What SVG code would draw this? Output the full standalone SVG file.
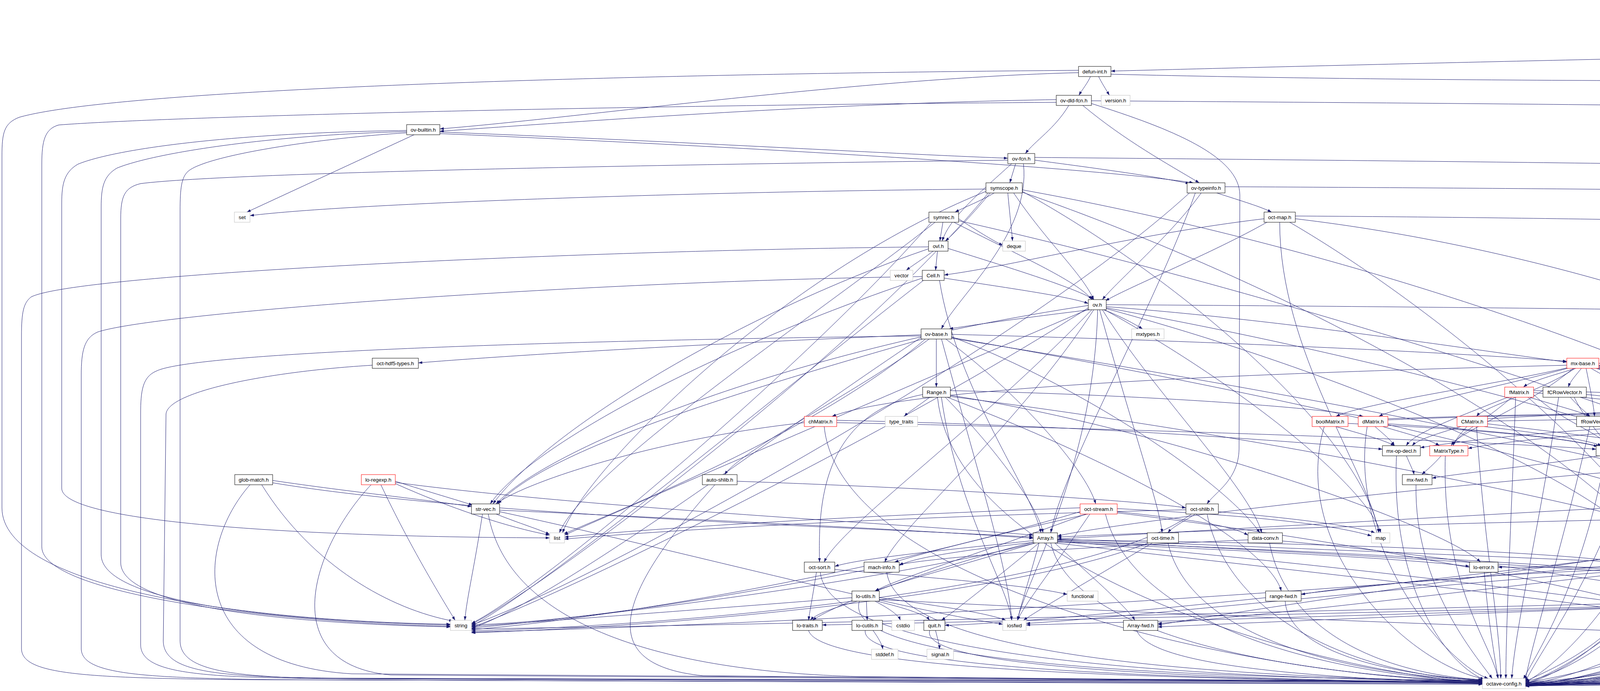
<svg xmlns="http://www.w3.org/2000/svg" width="6929" height="1769" viewBox="0 0 6929 1769">
<style>
.n rect{fill:#fff;stroke:#000;stroke-width:1}
.x rect{stroke:#bfbfbf}
.r rect{stroke:#f00}
.root rect{fill:#bfbfbf}
text{font-family:"Liberation Sans",Arial,sans-serif;font-size:13.33px;text-anchor:middle;fill:#000}
#edges path{fill:none;stroke:#191970;stroke-width:1;marker-end:url(#a)}
</style>
<defs>
<marker id="a" markerWidth="10" markerHeight="7" refX="10" refY="3.5" orient="auto" markerUnits="userSpaceOnUse"><path d="M0,0 L10,3.5 L0,7 z" fill="#191970"/></marker>
</defs>
<rect x="0" y="0" width="6929" height="1769" fill="#fff"/>
<g id="edges">
<path d="M6820 47 C6815 70 6808 80 6803 96"/>
<path d="M6850 47 C6885 200 6700 420 6400 560 C6000 750 4900 950 4510 1066"/>
<path d="M6770 109 C5500 115 3500 165 2844 182"/>
<path d="M6815 122 C6880 170 6922 220 6922 300 L6922 1680 C6922 1740 6700 1745 3905 1755"/>
<path d="M2761 186 C2200 200 1500 300 1126 330"/>
<path d="M2792 195 C2785 212 2770 230 2762 244"/>
<path d="M2812 195 C2820 212 2832 230 2840 244"/>
<path d="M2761 180 C1500 190 300 230 50 300 C10 315 5 340 5 400 L5 1300 C5 1500 600 1590 1153 1598"/>
<path d="M2844 190 C4500 230 6300 180 6600 230 C6800 270 6871 350 6871 500 L6871 1680 C6871 1730 6600 1742 3905 1752"/>
<path d="M2736 270 C2700 330 2650 360 2625 393"/>
<path d="M2772 270 C2880 360 2990 420 3070 468"/>
<path d="M2794 265 C3000 330 3174 400 3174 500 L3172 1150 C3170 1230 3110 1260 3090 1290"/>
<path d="M2704 255 C2100 265 1500 310 1126 336"/>
<path d="M2704 262 C1500 270 400 300 150 320 C115 330 107 360 107 420 L107 1400 C107 1520 700 1595 1153 1603"/>
<path d="M2794 258 C4500 270 6200 280 6700 380 C6800 410 6821 470 6821 560 L6821 1680 C6821 1730 6550 1740 3905 1750"/>
<path d="M1126 338 C1700 360 2300 395 2580 405"/>
<path d="M1126 342 C2000 380 2800 430 3055 468"/>
<path d="M1060 345 L632 543"/>
<path d="M1041 334 C600 340 300 380 200 420 C165 440 158 470 158 520 L158 1250 C158 1340 800 1375 1407 1377"/>
<path d="M1041 337 C700 345 400 390 300 430 C265 450 259 480 259 530 L259 1420 C259 1540 700 1590 1153 1600"/>
<path d="M1041 340 C800 355 520 400 480 440 C465 455 461 480 461 540 L461 1640 C461 1720 600 1735 900 1738 L3795 1748"/>
<path d="M2649 410 C2800 430 2950 450 3045 470"/>
<path d="M2600 419 L2585 468"/>
<path d="M2590 419 C2500 500 2430 560 2412 617"/>
<path d="M2620 419 C2640 600 2450 760 2410 842"/>
<path d="M2580 410 C1800 420 600 440 360 470 C320 480 309 500 309 560 L309 1440 C309 1550 700 1595 1153 1605"/>
<path d="M2649 403 C4500 420 6200 440 6650 500 C6740 520 6771 580 6771 650 L6771 1680 C6771 1730 6500 1740 3905 1750"/>
<path d="M2580 494 C2585 550 2590 590 2592 617"/>
<path d="M2545 494 C2510 515 2470 530 2445 543"/>
<path d="M2535 494 C2480 560 2440 600 2420 617"/>
<path d="M2595 494 C2680 620 2770 700 2800 767"/>
<path d="M2524 484 C1800 490 900 520 640 552"/>
<path d="M2524 490 C2000 700 1500 1200 1440 1364"/>
<path d="M2617 490 C3000 700 3480 1100 3530 1364"/>
<path d="M2617 486 C3800 700 5000 1200 5125 1513"/>
<path d="M2530 494 C2200 900 1400 1500 1207 1598"/>
<path d="M2617 492 C3500 800 4300 1300 4340 1588"/>
<path d="M2454 560 C2500 590 2540 615 2567 628"/>
<path d="M2395 568 C2100 800 1500 1200 1432 1364"/>
<path d="M2454 565 C3500 800 5000 1300 5115 1513"/>
<path d="M2385 568 C2100 900 1400 1500 1207 1596"/>
<path d="M2440 568 C2600 650 2760 720 2795 767"/>
<path d="M2414 568 L2406 617"/>
<path d="M3060 494 C2950 800 2720 1200 2690 1364"/>
<path d="M3115 494 C3180 515 3230 530 3255 543"/>
<path d="M3075 494 C3000 600 2860 720 2822 767"/>
<path d="M3045 494 C2600 900 1500 1500 1207 1600"/>
<path d="M3136 478 C4500 485 6100 500 6600 560 C6700 580 6721 640 6721 720 L6721 1680 C6721 1728 6450 1740 3905 1750"/>
<path d="M3316 560 C4500 700 5600 1300 5680 1588"/>
<path d="M3276 568 C3276 900 3500 1200 3530 1364"/>
<path d="M3236 560 C2900 600 2600 680 2417 704"/>
<path d="M3300 568 C3700 800 4300 1300 4345 1588"/>
<path d="M3245 568 C3100 650 2900 730 2830 770"/>
<path d="M3316 553 C4500 560 6100 600 6550 650 C6650 670 6670 720 6670 800 L6670 1680 C6670 1726 6400 1738 3905 1750"/>
<path d="M2390 642 C2360 665 2335 680 2320 692"/>
<path d="M2400 642 L2395 692"/>
<path d="M2377 637 C1900 800 1400 1100 1262 1290"/>
<path d="M2427 636 C2600 690 2760 740 2800 767"/>
<path d="M2377 632 C1500 640 200 700 80 760 C60 775 55 800 55 860 L55 1660 C55 1725 200 1735 600 1740 L3795 1750"/>
<path d="M2405 717 C2450 1000 2640 1250 2665 1364"/>
<path d="M2361 712 C1800 900 1350 1150 1255 1290"/>
<path d="M2417 712 C2600 740 2740 760 2786 777"/>
<path d="M2365 717 C2000 1000 1400 1500 1207 1603"/>
<path d="M2361 708 C1500 720 400 800 250 850 C215 865 208 900 208 960 L208 1660 C208 1725 350 1735 700 1740 L3795 1752"/>
<path d="M2790 793 C2650 810 2500 830 2430 842"/>
<path d="M2825 793 C2870 810 2905 830 2925 842"/>
<path d="M2832 785 C3300 820 3800 900 4011 927"/>
<path d="M2822 793 C2950 1000 3200 1250 3230 1364"/>
<path d="M2832 790 C3600 1000 4200 1300 4235 1439"/>
<path d="M2800 793 C2600 1100 2300 1350 2265 1439"/>
<path d="M2795 793 C2500 1100 2150 1350 2110 1439"/>
<path d="M2815 793 C2900 1100 2970 1300 2975 1364"/>
<path d="M2786 782 C2000 900 1400 1150 1270 1290"/>
<path d="M2810 793 C2800 1200 2620 1500 2605 1588"/>
<path d="M2786 788 C2300 1100 1450 1520 1207 1606"/>
<path d="M2790 790 C2300 1000 1600 1300 1445 1370"/>
<path d="M2832 788 C4000 1000 5000 1350 5130 1513"/>
<path d="M2828 793 C3200 1000 3500 1250 3535 1364"/>
<path d="M2832 780 C4500 790 6300 820 6560 860 C6610 870 6620 900 6620 950 L6620 1680 C6620 1725 6350 1737 3905 1748"/>
<path d="M2397 867 L2397 991"/>
<path d="M2436 862 C2800 1000 3150 1250 3225 1364"/>
<path d="M2436 856 C3000 870 3700 900 4011 925"/>
<path d="M2365 867 C1900 1000 1400 1150 1275 1290"/>
<path d="M2380 867 C2200 1000 1900 1150 1855 1215"/>
<path d="M2358 857 C1800 880 1300 910 1071 929"/>
<path d="M2420 867 C2600 1000 2780 1200 2805 1290"/>
<path d="M2436 864 C3800 1100 4850 1400 4925 1588"/>
<path d="M2410 867 C2500 1200 2580 1450 2590 1588"/>
<path d="M2370 867 C2100 1100 1600 1300 1443 1367"/>
<path d="M2436 866 C3900 1100 5000 1350 5120 1513"/>
<path d="M2358 864 C2000 1100 1450 1520 1207 1609"/>
<path d="M2358 860 C1500 870 500 900 400 950 C365 965 360 1000 360 1060 L360 1650 C360 1722 500 1733 800 1737 L3795 1746"/>
<path d="M953 935 C700 950 430 1000 425 1060 L418 1640 C418 1720 550 1733 850 1736 L3795 1744"/>
<path d="M4030 941 C3900 1050 3740 1100 3715 1141"/>
<path d="M4015 941 C3800 990 3500 1030 3420 1066"/>
<path d="M4011 935 C3000 960 2300 1000 2130 1066"/>
<path d="M4020 941 C3800 1000 3580 1040 3530 1066"/>
<path d="M4035 941 C3950 1000 3800 1040 3780 1066"/>
<path d="M4040 941 C3980 960 3920 975 3900 991"/>
<path d="M4080 941 C4300 990 4620 1030 4680 1066"/>
<path d="M4070 941 C4150 990 4270 1030 4300 1066"/>
<path d="M4093 935 C4600 960 5050 1020 5160 1066"/>
<path d="M4090 940 C4400 980 4720 1030 4795 1066"/>
<path d="M4093 930 C4600 940 5000 960 5124 995"/>
<path d="M4093 938 C4500 970 4850 1030 4915 1066"/>
<path d="M4060 941 C4070 990 4080 1040 4082 1066"/>
<path d="M4093 936 C4600 960 4980 1020 5040 1066"/>
<path d="M4050 941 C4035 960 4020 975 4015 991"/>
<path d="M4080 941 C4140 960 4190 975 4205 991"/>
<path d="M4088 941 C4300 990 4440 1030 4470 1066"/>
<path d="M2380 1017 C2350 1040 2325 1055 2315 1066"/>
<path d="M2433 1000 C2900 1010 3350 1040 3490 1066"/>
<path d="M2362 1010 C2100 1060 2095 1300 2098 1439"/>
<path d="M2433 1012 C3000 1100 3700 1350 3790 1439"/>
<path d="M2433 1015 C3500 1150 4600 1400 4740 1513"/>
<path d="M2425 1017 C2900 1200 3250 1400 3280 1513"/>
<path d="M2410 1017 C2450 1300 2580 1500 2590 1588"/>
<path d="M2400 1017 C2450 1500 3500 1740 3795 1746"/>
<path d="M2420 1017 C2550 1150 2660 1300 2670 1364"/>
<path d="M3870 1017 C3800 1080 3730 1110 3720 1141"/>
<path d="M3860 1017 C3700 1080 3620 1110 3600 1141"/>
<path d="M3926 1010 C4000 1080 4100 1110 4115 1141"/>
<path d="M3926 1005 C4400 1050 4800 1100 4850 1141"/>
<path d="M3915 1017 C3990 1040 4050 1055 4070 1066"/>
<path d="M3926 1000 C4400 1010 4850 1040 4910 1066"/>
<path d="M3880 1017 C3870 1300 3855 1600 3855 1737"/>
<path d="M4020 1017 C4040 1040 4060 1055 4070 1066"/>
<path d="M4061 1010 C4500 1050 4800 1100 4845 1141"/>
<path d="M4030 1017 C4060 1080 4100 1110 4110 1141"/>
<path d="M3990 1017 C3950 1300 3880 1600 3870 1737"/>
<path d="M4240 1017 C4260 1040 4290 1055 4300 1066"/>
<path d="M4274 1008 C4700 1020 5000 1040 5150 1066"/>
<path d="M4200 1017 C4170 1080 4140 1110 4135 1141"/>
<path d="M4210 1017 C4150 1400 3950 1650 3905 1745"/>
<path d="M5177 1017 L5177 1066"/>
<path d="M5150 1017 C5050 1080 4920 1120 4890 1141"/>
<path d="M5124 1010 C4700 1050 4300 1110 4160 1145"/>
<path d="M5230 1008 C5700 1100 5850 1500 5855 1662"/>
<path d="M5200 1017 C5250 1400 4200 1700 3905 1748"/>
<path d="M2142 1076 C2800 1090 3300 1130 3539 1150"/>
<path d="M2142 1082 C3000 1100 3800 1130 4086 1150"/>
<path d="M2059 1082 C1700 1120 1350 1230 1270 1290"/>
<path d="M2110 1092 C2150 1500 3200 1735 3795 1745"/>
<path d="M3420 1092 C3480 1110 3540 1125 3570 1141"/>
<path d="M3451 1084 C3800 1100 4000 1120 4090 1143"/>
<path d="M3390 1092 C3300 1400 3600 1700 3800 1738"/>
<path d="M3540 1092 C3600 1110 3660 1125 3685 1141"/>
<path d="M3520 1092 C3540 1110 3560 1125 3570 1141"/>
<path d="M3553 1085 C3800 1100 4000 1120 4095 1143"/>
<path d="M3553 1075 C3900 1060 4200 1060 4280 1066"/>
<path d="M3553 1072 C4200 1050 4900 1050 5140 1068"/>
<path d="M3500 1092 C3450 1400 3700 1700 3810 1737"/>
<path d="M3755 1092 C3740 1110 3725 1125 3720 1141"/>
<path d="M3740 1092 C3680 1110 3630 1125 3615 1141"/>
<path d="M3800 1092 C3950 1110 4060 1125 4100 1141"/>
<path d="M3808 1078 C4300 1070 4600 1060 4780 1066"/>
<path d="M3808 1072 C4400 1040 4900 1010 5124 1004"/>
<path d="M3808 1085 C4800 1200 5800 1400 5850 1662"/>
<path d="M3780 1092 C3800 1400 3840 1600 3842 1737"/>
<path d="M4137 1085 C4500 1100 4780 1120 4840 1141"/>
<path d="M4100 1092 C4110 1110 4120 1125 4122 1141"/>
<path d="M4070 1092 C4000 1400 3920 1650 3905 1742"/>
<path d="M4340 1092 C4600 1110 4800 1125 4845 1141"/>
<path d="M4280 1092 C4220 1110 4170 1125 4150 1141"/>
<path d="M4300 1092 C4250 1450 4000 1700 3905 1746"/>
<path d="M4460 1092 C4430 1110 4405 1125 4400 1141"/>
<path d="M4480 1092 C4460 1200 4410 1250 4400 1290"/>
<path d="M4510 1092 C4700 1110 4820 1125 4850 1141"/>
<path d="M4436 1088 C4300 1110 4200 1130 4160 1148"/>
<path d="M4436 1084 C4100 1090 3800 1120 3636 1146"/>
<path d="M4470 1092 C4400 1500 4000 1720 3905 1750"/>
<path d="M4649 1082 C4300 1090 3900 1120 3758 1148"/>
<path d="M4720 1092 C4790 1110 4840 1125 4855 1141"/>
<path d="M4649 1086 C4400 1100 4250 1130 4165 1150"/>
<path d="M4732 1088 C5500 1200 5840 1500 5845 1662"/>
<path d="M4680 1092 C4650 1500 4100 1730 3905 1752"/>
<path d="M4815 1092 C4835 1110 4855 1125 4860 1141"/>
<path d="M4756 1088 C4500 1100 4250 1130 4165 1152"/>
<path d="M4855 1088 C5500 1250 5830 1500 5840 1662"/>
<path d="M4790 1092 C4750 1500 4200 1735 3905 1753"/>
<path d="M4915 1092 C4895 1110 4880 1125 4875 1141"/>
<path d="M4879 1088 C4500 1100 4250 1135 4165 1155"/>
<path d="M4910 1092 C4880 1500 4300 1738 3905 1754"/>
<path d="M5030 1092 C4980 1110 4920 1125 4890 1141"/>
<path d="M4998 1088 C4600 1110 4300 1140 4165 1158"/>
<path d="M5102 1088 C5600 1250 5830 1500 5835 1662"/>
<path d="M5040 1092 C5000 1500 4400 1740 3905 1755"/>
<path d="M5150 1092 C5050 1110 4950 1125 4900 1143"/>
<path d="M5127 1088 C4700 1110 4300 1145 4165 1160"/>
<path d="M5170 1092 C5150 1500 4500 1742 3905 1756"/>
<path d="M3600 1166 C3610 1190 3618 1205 3620 1215"/>
<path d="M3575 1166 C3560 1500 3700 1700 3800 1740"/>
<path d="M3690 1166 C3670 1190 3650 1205 3640 1215"/>
<path d="M3700 1166 C3690 1500 3820 1650 3835 1737"/>
<path d="M4100 1166 C3950 1190 3750 1210 3666 1224"/>
<path d="M4110 1166 C4050 1500 3930 1680 3900 1738"/>
<path d="M4380 1166 C4300 1550 4000 1730 3905 1750"/>
<path d="M4828 1160 C4000 1200 2900 1330 2707 1372"/>
<path d="M4902 1160 C5200 1180 5400 1200 5490 1222"/>
<path d="M4902 1153 C5400 1160 5850 1190 5990 1215"/>
<path d="M4850 1166 C4800 1550 4200 1735 3905 1752"/>
<path d="M670 1241 C800 1450 1000 1560 1160 1590"/>
<path d="M698 1230 C900 1260 1100 1280 1207 1297"/>
<path d="M698 1236 C1200 1320 2200 1350 2645 1375"/>
<path d="M640 1241 C500 1400 480 1700 900 1725 L3795 1745"/>
<path d="M1012 1238 C1150 1300 1300 1350 1407 1370"/>
<path d="M975 1241 C1050 1400 1130 1530 1165 1588"/>
<path d="M1012 1232 C1100 1260 1170 1280 1210 1293"/>
<path d="M1012 1235 C1500 1300 2300 1340 2645 1370"/>
<path d="M950 1241 C800 1400 700 1700 1000 1728 L3795 1747"/>
<path d="M1887 1232 C2400 1250 2900 1280 3036 1300"/>
<path d="M1830 1241 C1600 1500 1500 1700 1800 1730 L3795 1748"/>
<path d="M3625 1241 C3620 1500 3780 1680 3820 1737"/>
<path d="M5488 1232 C5300 1260 5100 1285 5056 1298"/>
<path d="M5510 1241 C5470 1260 5440 1280 5430 1290"/>
<path d="M5560 1241 C5700 1400 5850 1550 5855 1662"/>
<path d="M5550 1241 C5620 1300 5630 1400 5630 1439"/>
<path d="M5570 1241 C5680 1350 5700 1500 5700 1588"/>
<path d="M5540 1241 C5540 1350 5538 1450 5537 1513"/>
<path d="M5488 1238 C4500 1400 2800 1590 2419 1601"/>
<path d="M5488 1225 C4500 1280 3200 1350 2707 1380"/>
<path d="M5520 1241 C5450 1600 4300 1740 3905 1752"/>
<path d="M6010 1241 C6100 1500 5800 1720 5000 1738 L3905 1752"/>
<path d="M1279 1306 C1800 1330 2400 1360 2645 1378"/>
<path d="M1270 1316 C1330 1340 1380 1355 1407 1368"/>
<path d="M1235 1316 C1215 1450 1195 1530 1190 1588"/>
<path d="M1279 1310 C1700 1400 2300 1560 2567 1598"/>
<path d="M1250 1316 C1300 1600 1700 1720 2200 1732 L3795 1748"/>
<path d="M2765 1310 C2300 1450 1600 1580 1207 1612"/>
<path d="M2765 1300 C2200 1320 1700 1350 1445 1375"/>
<path d="M2860 1302 C3200 1320 3400 1340 3511 1372"/>
<path d="M2790 1316 C2700 1450 2620 1550 2605 1588"/>
<path d="M2860 1310 C3050 1330 3150 1345 3195 1370"/>
<path d="M2780 1316 C2500 1420 2300 1480 2240 1513"/>
<path d="M2785 1316 C2500 1380 2350 1420 2290 1439"/>
<path d="M2860 1313 C3600 1400 4250 1550 4330 1588"/>
<path d="M2830 1316 C2900 1600 3400 1730 3795 1744"/>
<path d="M3036 1305 C2400 1320 1800 1350 1445 1380"/>
<path d="M3119 1310 C3350 1330 3480 1350 3520 1364"/>
<path d="M3050 1316 C2800 1500 1800 1600 1207 1615"/>
<path d="M3060 1316 C3030 1335 3000 1350 2990 1364"/>
<path d="M3090 1316 C3150 1600 3500 1730 3795 1742"/>
<path d="M4400 1316 C4500 1500 4800 1600 4850 1662"/>
<path d="M4370 1316 C4250 1600 4000 1730 3905 1744"/>
<path d="M4972 1310 C4300 1400 3200 1560 2964 1600"/>
<path d="M5000 1316 C4900 1400 4790 1480 4770 1513"/>
<path d="M4985 1316 C4700 1380 4400 1420 4294 1445"/>
<path d="M4990 1316 C4850 1380 4740 1420 4710 1439"/>
<path d="M5020 1316 C5000 1600 4300 1735 3905 1748"/>
<path d="M5418 1316 C5422 1335 5428 1350 5430 1364"/>
<path d="M5378 1306 C4500 1320 3200 1350 2707 1375"/>
<path d="M5390 1316 C5100 1400 4850 1480 4790 1513"/>
<path d="M5440 1316 C5600 1400 5680 1500 5690 1588"/>
<path d="M5378 1312 C4000 1500 2000 1600 1207 1618"/>
<path d="M5400 1316 C5300 1650 4300 1742 3905 1752"/>
<path d="M2707 1385 C3500 1450 4300 1560 4460 1588"/>
<path d="M2707 1380 C4000 1430 5200 1480 5503 1522"/>
<path d="M2707 1383 C4200 1450 5400 1560 5657 1598"/>
<path d="M2660 1390 C2630 1500 2610 1560 2605 1588"/>
<path d="M2650 1390 C2200 1500 1500 1580 1207 1608"/>
<path d="M2700 1390 C2800 1480 2890 1560 2905 1588"/>
<path d="M2707 1386 C3700 1420 4500 1480 4720 1513"/>
<path d="M2707 1382 C3500 1390 4100 1420 4204 1448"/>
<path d="M2707 1388 C3200 1410 3600 1430 3762 1450"/>
<path d="M2645 1388 C2400 1450 2150 1540 2080 1588"/>
<path d="M2650 1390 C2450 1450 2300 1490 2240 1513"/>
<path d="M2700 1390 C3500 1480 4200 1560 4320 1588"/>
<path d="M2645 1384 C2400 1410 2200 1430 2137 1450"/>
<path d="M2660 1390 C2550 1480 2450 1560 2410 1588"/>
<path d="M2650 1388 C2450 1410 2330 1430 2302 1448"/>
<path d="M2690 1390 C2750 1650 3400 1735 3795 1743"/>
<path d="M2950 1390 C2800 1480 2660 1560 2620 1588"/>
<path d="M2940 1390 C2600 1520 1800 1600 1207 1620"/>
<path d="M2990 1390 C3050 1650 3500 1730 3795 1741"/>
<path d="M3283 1385 C4000 1450 4800 1600 4990 1662"/>
<path d="M3195 1382 C2800 1400 2450 1420 2302 1445"/>
<path d="M3250 1390 C3300 1650 3600 1730 3795 1740"/>
<path d="M5445 1364 C5480 1320 5520 1270 5530 1241"/>
<path d="M5460 1390 C5550 1410 5600 1425 5610 1439"/>
<path d="M5379 1386 C5100 1420 4850 1490 4790 1515"/>
<path d="M5450 1390 C5580 1450 5670 1530 5685 1588"/>
<path d="M5420 1390 C5300 1680 4300 1745 3905 1753"/>
<path d="M2137 1458 C2400 1480 2650 1500 2732 1522"/>
<path d="M2090 1465 C2080 1530 2072 1570 2070 1588"/>
<path d="M2100 1465 C2120 1680 3000 1735 3795 1745"/>
<path d="M2212 1460 C1900 1520 1500 1590 1207 1600"/>
<path d="M2270 1465 C2300 1680 3100 1733 3795 1744"/>
<path d="M3800 1465 C3810 1600 3830 1700 3835 1737"/>
<path d="M4270 1465 C4310 1480 4335 1500 4340 1513"/>
<path d="M4260 1465 C4290 1520 4330 1560 4340 1588"/>
<path d="M4280 1465 C4380 1520 4440 1560 4460 1588"/>
<path d="M4294 1458 C4900 1500 5500 1570 5657 1592"/>
<path d="M4204 1458 C3600 1500 2900 1580 2627 1596"/>
<path d="M4294 1455 C4700 1470 5000 1490 5104 1520"/>
<path d="M4204 1462 C3700 1520 3200 1580 2964 1596"/>
<path d="M4294 1460 C4550 1480 4680 1500 4720 1513"/>
<path d="M4294 1463 C4600 1480 4800 1500 4840 1513"/>
<path d="M4250 1465 C4255 1550 4260 1620 4262 1662"/>
<path d="M4204 1455 C3800 1470 3450 1500 3331 1522"/>
<path d="M4230 1465 C4150 1650 3950 1720 3905 1745"/>
<path d="M4700 1465 C4720 1485 4740 1500 4745 1513"/>
<path d="M4623 1452 C4300 1452 4000 1452 3835 1452"/>
<path d="M4744 1460 C4950 1480 5060 1500 5110 1513"/>
<path d="M4660 1465 C4550 1680 4100 1735 3905 1747"/>
<path d="M5600 1465 C5570 1490 5550 1505 5545 1513"/>
<path d="M5640 1465 C5670 1520 5690 1560 5692 1588"/>
<path d="M5610 1465 C5500 1700 4400 1745 3905 1754"/>
<path d="M2240 1539 C2280 1560 2300 1575 2305 1588"/>
<path d="M2251 1530 C2400 1550 2530 1570 2575 1588"/>
<path d="M2181 1530 C1800 1560 1400 1590 1207 1604"/>
<path d="M2218 1539 L2220 1588"/>
<path d="M2245 1539 C2330 1560 2370 1575 2380 1588"/>
<path d="M2195 1539 C2120 1560 2085 1575 2075 1588"/>
<path d="M2251 1535 C3500 1600 5200 1650 5815 1672"/>
<path d="M2200 1539 C2150 1700 3000 1735 3795 1742"/>
<path d="M3290 1539 C3300 1680 3600 1730 3795 1741"/>
<path d="M4720 1539 C4600 1560 4520 1575 4490 1588"/>
<path d="M4735 1539 C4680 1560 4620 1575 4600 1588"/>
<path d="M4708 1532 C3500 1560 2000 1600 1207 1610"/>
<path d="M4801 1534 C5200 1550 5500 1570 5657 1595"/>
<path d="M4708 1535 C4600 1560 4450 1575 4400 1588"/>
<path d="M4730 1539 C4680 1600 4610 1640 4590 1662"/>
<path d="M4708 1537 C4000 1560 3300 1590 2964 1605"/>
<path d="M4740 1539 C4650 1690 4200 1735 3905 1750"/>
<path d="M4900 1539 C4920 1560 4930 1575 4932 1588"/>
<path d="M4890 1539 C4920 1600 4980 1640 4995 1662"/>
<path d="M4926 1534 C5050 1560 5140 1600 5155 1662"/>
<path d="M4825 1534 C4000 1560 3000 1590 2627 1600"/>
<path d="M4926 1537 C5000 1555 5060 1575 5075 1588"/>
<path d="M4825 1537 C3800 1560 2600 1590 2105 1600"/>
<path d="M4870 1539 C4860 1590 4860 1640 4862 1662"/>
<path d="M4860 1539 C4780 1700 4300 1740 3905 1751"/>
<path d="M2070 1614 C2100 1720 3000 1738 3795 1748"/>
<path d="M2235 1614 C2250 1635 2258 1650 2260 1662"/>
<path d="M2215 1614 C2200 1720 3100 1738 3795 1749"/>
<path d="M2395 1614 C2400 1635 2405 1650 2405 1662"/>
<path d="M2380 1614 C2350 1720 3200 1737 3795 1750"/>
<path d="M2910 1614 C2950 1720 3500 1737 3795 1751"/>
<path d="M4375 1614 C4395 1635 4410 1650 4415 1662"/>
<path d="M4340 1614 C4200 1720 4000 1742 3905 1755"/>
<path d="M5110 1614 C5135 1635 5150 1650 5155 1662"/>
<path d="M5080 1614 C5050 1635 5025 1650 5015 1662"/>
<path d="M5060 1614 C4980 1635 4920 1650 4900 1662"/>
<path d="M5142 1606 C5500 1620 5750 1650 5815 1667"/>
<path d="M5090 1614 C5050 1720 4300 1745 3905 1756"/>
<path d="M4240 1688 C4150 1740 4000 1750 3905 1752"/>
<path d="M4550 1688 C4400 1740 4100 1752 3905 1754"/>
<path d="M4840 1688 C4700 1740 4200 1752 3905 1756"/>
<path d="M5860 1688 L5860 1737"/>
<path d="M5815 1678 C5300 1700 4300 1740 3905 1757"/>
</g>
<g id="nodes">
<g id="n_root" class="n root"><rect x="6773" y="6" width="128" height="41"/><text x="6784" y="22" style="text-anchor:start">libinterp/corefcn/</text><text x="6784" y="38" style="text-anchor:start">__gammainc__.cc</text></g>
<g id="n_defun" class="n"><rect x="6770" y="96" width="65" height="26"/><text x="6802.5" y="113.5">defun.h</text></g>
<g id="n_defun_int" class="n"><rect x="2761" y="170" width="83" height="26"/><text x="2802.5" y="187.5">defun-int.h</text></g>
<g id="n_ov_dld_fcn" class="n"><rect x="2704" y="244" width="90" height="26"/><text x="2749" y="261.5">ov-dld-fcn.h</text></g>
<g id="n_version" class="n x"><rect x="2819" y="244" width="74" height="26"/><text x="2856" y="261.5">version.h</text></g>
<g id="n_ov_builtin" class="n"><rect x="1041" y="319" width="85" height="26"/><text x="1083.5" y="336.5">ov-builtin.h</text></g>
<g id="n_ov_fcn" class="n"><rect x="2580" y="393" width="69" height="26"/><text x="2614.5" y="410.5">ov-fcn.h</text></g>
<g id="n_symscope" class="n"><rect x="2524" y="468" width="93" height="26"/><text x="2570.5" y="485.5">symscope.h</text></g>
<g id="n_ov_typeinfo" class="n"><rect x="3039" y="468" width="97" height="26"/><text x="3087.5" y="485.5">ov-typeinfo.h</text></g>
<g id="n_set" class="n x"><rect x="600" y="543" width="40" height="26"/><text x="620" y="560.5">set</text></g>
<g id="n_symrec" class="n"><rect x="2378" y="543" width="76" height="26"/><text x="2416" y="560.5">symrec.h</text></g>
<g id="n_oct_map" class="n"><rect x="3236" y="543" width="80" height="26"/><text x="3276" y="560.5">oct-map.h</text></g>
<g id="n_ovl" class="n"><rect x="2377" y="617" width="50" height="26"/><text x="2402" y="634.5">ovl.h</text></g>
<g id="n_deque" class="n x"><rect x="2567" y="617" width="58" height="26"/><text x="2596" y="634.5">deque</text></g>
<g id="n_vector" class="n x"><rect x="2279" y="692" width="58" height="26"/><text x="2308" y="709.5">vector</text></g>
<g id="n_Cell" class="n"><rect x="2361" y="692" width="56" height="26"/><text x="2389" y="709.5">Cell.h</text></g>
<g id="n_ov" class="n"><rect x="2786" y="767" width="46" height="26"/><text x="2809" y="784.5">ov.h</text></g>
<g id="n_ov_base" class="n"><rect x="2358" y="842" width="78" height="26"/><text x="2397" y="859.5">ov-base.h</text></g>
<g id="n_mxtypes" class="n x"><rect x="2897" y="842" width="83" height="26"/><text x="2938.5" y="859.5">mxtypes.h</text></g>
<g id="n_hdf5" class="n"><rect x="953" y="917" width="118" height="26"/><text x="1012" y="934.5">oct-hdf5-types.h</text></g>
<g id="n_mx_base" class="n r"><rect x="4011" y="917" width="82" height="26"/><text x="4052" y="934.5">mx-base.h</text></g>
<g id="n_Range" class="n"><rect x="2362" y="991" width="71" height="26"/><text x="2397.5" y="1008.5">Range.h</text></g>
<g id="n_fMatrix" class="n r"><rect x="3852" y="991" width="74" height="26"/><text x="3889" y="1008.5">fMatrix.h</text></g>
<g id="n_fCRowVector" class="n"><rect x="3950" y="991" width="111" height="26"/><text x="4005.5" y="1008.5">fCRowVector.h</text></g>
<g id="n_dDiagMatrix" class="n r"><rect x="4171" y="991" width="103" height="26"/><text x="4222.5" y="1008.5">dDiagMatrix.h</text></g>
<g id="n_CRowVector" class="n"><rect x="5124" y="991" width="106" height="26"/><text x="5177" y="1008.5">CRowVector.h</text></g>
<g id="n_chMatrix" class="n r"><rect x="2059" y="1066" width="83" height="26"/><text x="2100.5" y="1083.5">chMatrix.h</text></g>
<g id="n_type_traits" class="n x"><rect x="2266" y="1066" width="83" height="26"/><text x="2307.5" y="1083.5">type_traits</text></g>
<g id="n_boolMatrix" class="n r"><rect x="3359" y="1066" width="92" height="26"/><text x="3405" y="1083.5">boolMatrix.h</text></g>
<g id="n_dMatrix" class="n r"><rect x="3477" y="1066" width="76" height="26"/><text x="3515" y="1083.5">dMatrix.h</text></g>
<g id="n_CMatrix" class="n r"><rect x="3730" y="1066" width="78" height="26"/><text x="3769" y="1083.5">CMatrix.h</text></g>
<g id="n_fRowVector" class="n"><rect x="4036" y="1066" width="101" height="26"/><text x="4086.5" y="1083.5">fRowVector.h</text></g>
<g id="n_dColVector" class="n"><rect x="4263" y="1066" width="97" height="26"/><text x="4311.5" y="1083.5">dColVector.h</text></g>
<g id="n_fNDArray" class="n"><rect x="4436" y="1066" width="86" height="26"/><text x="4479" y="1083.5">fNDArray.h</text></g>
<g id="n_fCMatrix" class="n r"><rect x="4649" y="1066" width="83" height="26"/><text x="4690.5" y="1083.5">fCMatrix.h</text></g>
<g id="n_CColVector" class="n"><rect x="4756" y="1066" width="99" height="26"/><text x="4805.5" y="1083.5">CColVector.h</text></g>
<g id="n_fColVector" class="n"><rect x="4879" y="1066" width="94" height="26"/><text x="4926" y="1083.5">fColVector.h</text></g>
<g id="n_fCColVector" class="n"><rect x="4998" y="1066" width="104" height="26"/><text x="5050" y="1083.5">fCColVector.h</text></g>
<g id="n_dRowVector" class="n"><rect x="5127" y="1066" width="103" height="26"/><text x="5178.5" y="1083.5">dRowVector.h</text></g>
<g id="n_mx_op_decl" class="n"><rect x="3539" y="1141" width="97" height="26"/><text x="3587.5" y="1158.5">mx-op-decl.h</text></g>
<g id="n_MatrixType" class="n r"><rect x="3660" y="1141" width="98" height="26"/><text x="3709" y="1158.5">MatrixType.h</text></g>
<g id="n_mx_defs" class="n"><rect x="4086" y="1141" width="79" height="26"/><text x="4125.5" y="1158.5">mx-defs.h</text></g>
<g id="n_bsxfun_decl" class="n"><rect x="4342" y="1141" width="100" height="26"/><text x="4392" y="1158.5">bsxfun-decl.h</text></g>
<g id="n_MArray" class="n"><rect x="4828" y="1141" width="74" height="26"/><text x="4865" y="1158.5">MArray.h</text></g>
<g id="n_glob_match" class="n"><rect x="601" y="1215" width="97" height="26"/><text x="649.5" y="1232.5">glob-match.h</text></g>
<g id="n_lo_regexp" class="n r"><rect x="925" y="1215" width="87" height="26"/><text x="968.5" y="1232.5">lo-regexp.h</text></g>
<g id="n_auto_shlib" class="n"><rect x="1798" y="1215" width="89" height="26"/><text x="1842.5" y="1232.5">auto-shlib.h</text></g>
<g id="n_mx_fwd" class="n"><rect x="3590" y="1215" width="76" height="26"/><text x="3628" y="1232.5">mx-fwd.h</text></g>
<g id="n_mx_inlines" class="n"><rect x="5488" y="1215" width="98" height="26"/><text x="5537" y="1232.5">mx-inlines.cc</text></g>
<g id="n_MArray_fwd" class="n"><rect x="5977" y="1215" width="99" height="26"/><text x="6026.5" y="1232.5">MArray-fwd.h</text></g>
<g id="n_str_vec" class="n"><rect x="1207" y="1290" width="72" height="26"/><text x="1243" y="1307.5">str-vec.h</text></g>
<g id="n_oct_stream" class="n r"><rect x="2765" y="1290" width="95" height="26"/><text x="2812.5" y="1307.5">oct-stream.h</text></g>
<g id="n_oct_shlib" class="n"><rect x="3036" y="1290" width="83" height="26"/><text x="3077.5" y="1307.5">oct-shlib.h</text></g>
<g id="n_intNDArray_fwd" class="n"><rect x="4331" y="1290" width="121" height="26"/><text x="4391.5" y="1307.5">intNDArray-fwd.h</text></g>
<g id="n_Array_util" class="n"><rect x="4972" y="1290" width="84" height="26"/><text x="5014" y="1307.5">Array-util.h</text></g>
<g id="n_bsxfun" class="n"><rect x="5378" y="1290" width="71" height="26"/><text x="5413.5" y="1307.5">bsxfun.h</text></g>
<g id="n_list" class="n x"><rect x="1407" y="1364" width="38" height="26"/><text x="1426" y="1381.5">list</text></g>
<g id="n_Array" class="n"><rect x="2645" y="1364" width="62" height="26"/><text x="2676" y="1381.5">Array.h</text></g>
<g id="n_oct_time" class="n"><rect x="2937" y="1364" width="80" height="26"/><text x="2977" y="1381.5">oct-time.h</text></g>
<g id="n_data_conv" class="n"><rect x="3195" y="1364" width="88" height="26"/><text x="3239" y="1381.5">data-conv.h</text></g>
<g id="n_map" class="n x"><rect x="3511" y="1364" width="47" height="26"/><text x="3534.5" y="1381.5">map</text></g>
<g id="n_bsxfun_defs" class="n"><rect x="5379" y="1364" width="107" height="26"/><text x="5432.5" y="1381.5">bsxfun-defs.cc</text></g>
<g id="n_oct_sort" class="n"><rect x="2059" y="1439" width="78" height="26"/><text x="2098" y="1456.5">oct-sort.h</text></g>
<g id="n_mach_info" class="n"><rect x="2212" y="1439" width="90" height="26"/><text x="2257" y="1456.5">mach-info.h</text></g>
<g id="n_lo_error" class="n"><rect x="3762" y="1439" width="73" height="26"/><text x="3798.5" y="1456.5">lo-error.h</text></g>
<g id="n_idx_vector" class="n"><rect x="4204" y="1439" width="90" height="26"/><text x="4249" y="1456.5">idx-vector.h</text></g>
<g id="n_lo_array_errwarn" class="n"><rect x="4623" y="1439" width="121" height="26"/><text x="4683.5" y="1456.5">lo-array-errwarn.h</text></g>
<g id="n_oct_locbuf" class="n"><rect x="5579" y="1439" width="91" height="26"/><text x="5624.5" y="1456.5">oct-locbuf.h</text></g>
<g id="n_lo_utils" class="n"><rect x="2181" y="1513" width="70" height="26"/><text x="2216" y="1530.5">lo-utils.h</text></g>
<g id="n_functional" class="n x"><rect x="2732" y="1513" width="79" height="26"/><text x="2771.5" y="1530.5">functional</text></g>
<g id="n_range_fwd" class="n"><rect x="3240" y="1513" width="91" height="26"/><text x="3285.5" y="1530.5">range-fwd.h</text></g>
<g id="n_cstring" class="n x"><rect x="4319" y="1513" width="60" height="26"/><text x="4349" y="1530.5">cstring</text></g>
<g id="n_dim_vector" class="n"><rect x="4708" y="1513" width="93" height="26"/><text x="4754.5" y="1530.5">dim-vector.h</text></g>
<g id="n_oct_inttypes" class="n"><rect x="4825" y="1513" width="101" height="26"/><text x="4875.5" y="1530.5">oct-inttypes.h</text></g>
<g id="n_memory" class="n x"><rect x="5104" y="1513" width="70" height="26"/><text x="5139" y="1530.5">memory</text></g>
<g id="n_cstddef" class="n x"><rect x="5503" y="1513" width="65" height="26"/><text x="5535.5" y="1530.5">cstddef</text></g>
<g id="n_string" class="n x"><rect x="1153" y="1588" width="54" height="26"/><text x="1180" y="1605.5">string</text></g>
<g id="n_lo_traits" class="n"><rect x="2029" y="1588" width="76" height="26"/><text x="2067" y="1605.5">lo-traits.h</text></g>
<g id="n_lo_cutils" class="n"><rect x="2181" y="1588" width="78" height="26"/><text x="2220" y="1605.5">lo-cutils.h</text></g>
<g id="n_cstdio" class="n x"><rect x="2283" y="1588" width="58" height="26"/><text x="2312" y="1605.5">cstdio</text></g>
<g id="n_quit" class="n"><rect x="2365" y="1588" width="54" height="26"/><text x="2392" y="1605.5">quit.h</text></g>
<g id="n_iosfwd" class="n x"><rect x="2567" y="1588" width="60" height="26"/><text x="2597" y="1605.5">iosfwd</text></g>
<g id="n_Array_fwd" class="n"><rect x="2876" y="1588" width="88" height="26"/><text x="2920" y="1605.5">Array-fwd.h</text></g>
<g id="n_oct_refcount" class="n"><rect x="4306" y="1588" width="102" height="26"/><text x="4357" y="1605.5">oct-refcount.h</text></g>
<g id="n_cassert" class="n x"><rect x="4441" y="1588" width="67" height="26"/><text x="4474.5" y="1605.5">cassert</text></g>
<g id="n_initializer_list" class="n x"><rect x="4533" y="1588" width="96" height="26"/><text x="4581" y="1605.5">initializer_list</text></g>
<g id="n_cstdlib" class="n x"><rect x="4908" y="1588" width="60" height="26"/><text x="4938" y="1605.5">cstdlib</text></g>
<g id="n_lo_mappers" class="n r"><rect x="5045" y="1588" width="97" height="26"/><text x="5093.5" y="1605.5">lo-mappers.h</text></g>
<g id="n_algorithm" class="n x"><rect x="5657" y="1588" width="75" height="26"/><text x="5694.5" y="1605.5">algorithm</text></g>
<g id="n_stddef" class="n x"><rect x="2231" y="1662" width="68" height="26"/><text x="2265" y="1679.5">stddef.h</text></g>
<g id="n_signal" class="n x"><rect x="2373" y="1662" width="68" height="26"/><text x="2407" y="1679.5">signal.h</text></g>
<g id="n_Sparse_fwd" class="n"><rect x="4217" y="1662" width="99" height="26"/><text x="4266.5" y="1679.5">Sparse-fwd.h</text></g>
<g id="n_atomic" class="n x"><rect x="4390" y="1662" width="61" height="26"/><text x="4420.5" y="1679.5">atomic</text></g>
<g id="n_oct_atomic" class="n"><rect x="4528" y="1662" width="95" height="26"/><text x="4575.5" y="1679.5">oct-atomic.h</text></g>
<g id="n_oct_inttypes_fwd" class="n"><rect x="4807" y="1662" width="127" height="26"/><text x="4870.5" y="1679.5">oct-inttypes-fwd.h</text></g>
<g id="n_limits" class="n x"><rect x="4980" y="1662" width="53" height="26"/><text x="5006.5" y="1679.5">limits</text></g>
<g id="n_cmath" class="n x"><rect x="5134" y="1662" width="59" height="26"/><text x="5163.5" y="1679.5">cmath</text></g>
<g id="n_oct_cmplx" class="n"><rect x="5815" y="1662" width="91" height="26"/><text x="5860.5" y="1679.5">oct-cmplx.h</text></g>
<g id="n_octave_config" class="n x"><rect x="3795" y="1737" width="110" height="26"/><text x="3850" y="1754.5">octave-config.h</text></g>
<g id="n_complex" class="n x"><rect x="5825" y="1737" width="70" height="26"/><text x="5860" y="1754.5">complex</text></g>
</g>
</svg>
